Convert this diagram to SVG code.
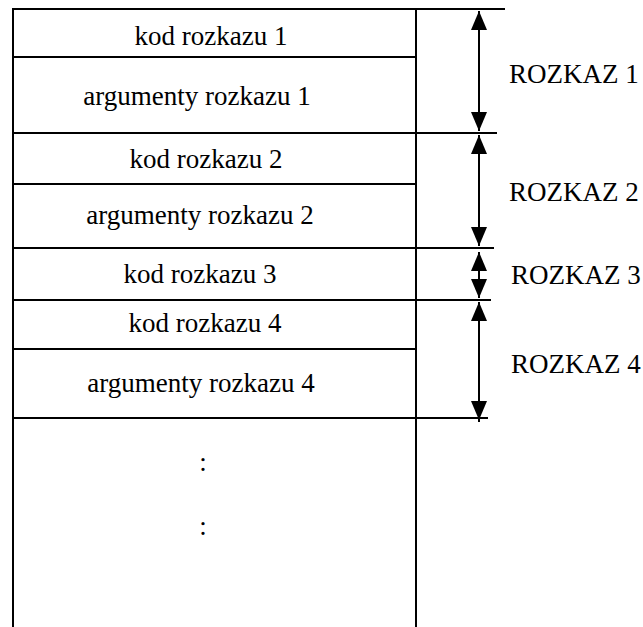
<svg xmlns="http://www.w3.org/2000/svg" width="643" height="627" viewBox="0 0 643 627" font-family="'Liberation Serif', 'Times New Roman', serif">
  <style>
    .ln { stroke: #000; stroke-width: 2; fill: none; }
    .txt { font-size: 27px; fill: #000; }
    .mid { text-anchor: middle; }
    .dim { stroke: #000; stroke-width: 2; fill: none; marker-start: url(#head); marker-end: url(#head); }
  </style>
  <defs>
    <marker id="head" viewBox="0 0 19 16" refX="19" refY="8" markerWidth="19" markerHeight="16" markerUnits="userSpaceOnUse" orient="auto-start-reverse">
      <path d="M0,0 L19,8 L0,16 z" fill="#000"/>
    </marker>
  </defs>
  <rect width="643" height="627" fill="#fff"/>

  <!-- memory column frame -->
  <g id="frame">
    <line class="ln" x1="13" y1="9" x2="505" y2="9"/>
    <line class="ln" x1="13" y1="8" x2="13" y2="627"/>
    <line class="ln" x1="416" y1="9" x2="416" y2="627"/>
  </g>

  <!-- instruction 1 -->
  <g id="kod1">
    <line class="ln" x1="13" y1="57" x2="416" y2="57"/>
    <text class="txt mid" x="211" y="45">kod rozkazu 1</text>
  </g>
  <g id="arg1">
    <line class="ln" x1="13" y1="133" x2="497" y2="133"/>
    <text class="txt mid" x="197" y="105">argumenty rozkazu 1</text>
  </g>

  <!-- instruction 2 -->
  <g id="kod2">
    <line class="ln" x1="13" y1="184" x2="416" y2="184"/>
    <text class="txt mid" x="206" y="168">kod rozkazu 2</text>
  </g>
  <g id="arg2">
    <line class="ln" x1="13" y1="248" x2="494" y2="248"/>
    <text class="txt mid" x="200" y="224">argumenty rozkazu 2</text>
  </g>

  <!-- instruction 3 -->
  <g id="kod3">
    <line class="ln" x1="13" y1="300" x2="491" y2="300"/>
    <text class="txt mid" x="200" y="283">kod rozkazu 3</text>
  </g>

  <!-- instruction 4 -->
  <g id="kod4">
    <line class="ln" x1="13" y1="349" x2="416" y2="349"/>
    <text class="txt mid" x="205" y="332">kod rozkazu 4</text>
  </g>
  <g id="arg4">
    <line class="ln" x1="13" y1="418" x2="488" y2="418"/>
    <text class="txt mid" x="201" y="392">argumenty rozkazu 4</text>
  </g>

  <!-- continuation -->
  <g id="dalej">
    <text class="txt mid" x="203" y="471">:</text>
    <text class="txt mid" x="203" y="535">:</text>
  </g>

  <!-- extent arrows -->
  <g id="connectors">
    <line class="dim" x1="479" y1="11" x2="479" y2="131"/>
    <line class="dim" x1="479" y1="135" x2="479" y2="246"/>
    <line class="dim" x1="479" y1="252" x2="479" y2="298"/>
    <line class="dim" x1="479" y1="302" x2="479" y2="420"/>
    <line class="ln" x1="479" y1="420" x2="479" y2="422"/>
  </g>

  <!-- instruction labels -->
  <g id="etykiety">
    <text class="txt" x="509" y="83">ROZKAZ 1</text>
    <text class="txt" x="509" y="201">ROZKAZ 2</text>
    <text class="txt" x="511" y="284">ROZKAZ 3</text>
    <text class="txt" x="511" y="373">ROZKAZ 4</text>
  </g>
</svg>
